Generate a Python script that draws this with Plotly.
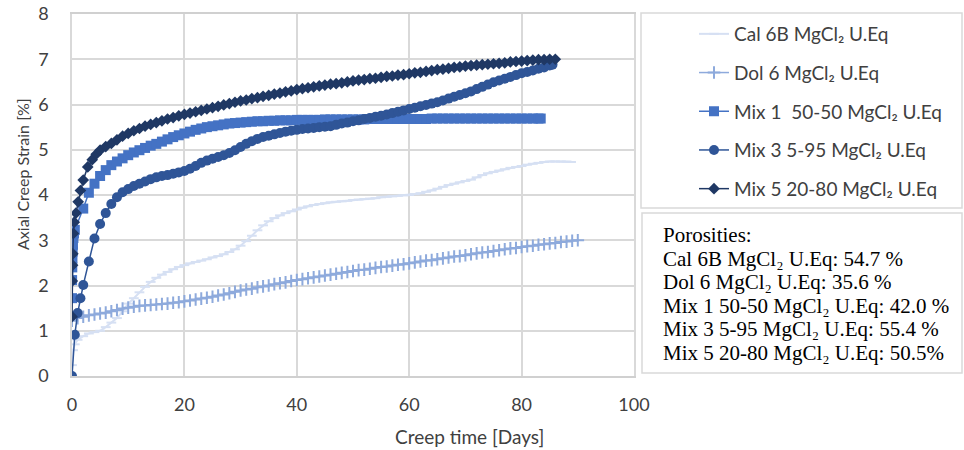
import plotly.graph_objects as go

# ---- creep curves: time [days] and axial strain [%] ----
cal_t = [0, 0.2, 0.5, 1, 2, 3, 4, 5, 6, 7, 8, 9, 10, 11, 12, 13, 14, 15, 16, 17, 18, 19, 20,
         21, 22, 23, 24, 25, 26, 27, 28, 29, 30, 31, 32, 33, 34, 35, 36, 37, 38, 39, 40,
         41, 42, 43, 44, 45, 46, 47, 48, 49, 50, 51, 52, 53, 54, 55, 56, 57, 58, 59, 60,
         61, 62, 63, 64, 65, 66, 67, 68, 69, 70, 71, 72, 73, 74, 75, 76, 77, 78, 79, 80,
         81, 82, 83, 84, 85, 86, 87, 88, 88.8]
cal_y = [0.24, 0.57, 0.70, 0.80, 0.88, 0.94, 0.97, 1.00, 1.08, 1.18, 1.28, 1.43, 1.60, 1.72, 1.85, 1.97, 2.08, 2.17, 2.24, 2.30, 2.36, 2.41, 2.45,
         2.49, 2.52, 2.55, 2.58, 2.62, 2.65, 2.69, 2.74, 2.80, 2.88, 2.98, 3.10, 3.22, 3.33, 3.42, 3.49, 3.55, 3.60, 3.64, 3.68,
         3.72, 3.75, 3.78, 3.80, 3.82, 3.84, 3.85, 3.86, 3.87, 3.89, 3.90, 3.91, 3.92, 3.93, 3.95, 3.96, 3.97, 3.98, 3.99, 4.00,
         4.02, 4.04, 4.07, 4.10, 4.14, 4.18, 4.22, 4.25, 4.28, 4.31, 4.34, 4.39, 4.44, 4.48, 4.51, 4.54, 4.57, 4.60, 4.62, 4.64,
         4.67, 4.69, 4.71, 4.73, 4.74, 4.74, 4.74, 4.74, 4.73]

dol_t = [0, 1, 2, 3, 4, 5, 6, 7, 8, 9, 10, 11, 12, 13, 14, 15, 16, 17, 18, 19, 20,
         21, 22, 23, 24, 25, 26, 27, 28, 29, 30, 31, 32, 33, 34, 35, 36, 37, 38, 39, 40,
         41, 42, 43, 44, 45, 46, 47, 48, 49, 50, 51, 52, 53, 54, 55, 56, 57, 58, 59, 60,
         61, 62, 63, 64, 65, 66, 67, 68, 69, 70, 71, 72, 73, 74, 75, 76, 77, 78, 79, 80,
         81, 82, 83, 84, 85, 86, 87, 88, 89, 90]
dol_y = [1.22, 1.28, 1.31, 1.34, 1.36, 1.38, 1.40, 1.43, 1.46, 1.49, 1.51, 1.53, 1.55, 1.56, 1.57, 1.58, 1.59, 1.60, 1.62, 1.63, 1.65,
         1.67, 1.69, 1.71, 1.73, 1.75, 1.78, 1.80, 1.83, 1.86, 1.89, 1.91, 1.93, 1.96, 1.98, 2.00, 2.03, 2.05, 2.07, 2.10, 2.12,
         2.14, 2.16, 2.18, 2.20, 2.22, 2.24, 2.26, 2.28, 2.30, 2.32, 2.34, 2.35, 2.37, 2.39, 2.41, 2.42, 2.44, 2.46, 2.47, 2.49,
         2.51, 2.53, 2.55, 2.56, 2.58, 2.60, 2.62, 2.64, 2.65, 2.67, 2.69, 2.71, 2.73, 2.74, 2.76, 2.78, 2.80, 2.82, 2.83, 2.85,
         2.87, 2.88, 2.90, 2.91, 2.93, 2.94, 2.96, 2.97, 2.99, 3.00]

mix1_t = [0, 0.02, 0.05, 0.08, 0.12, 0.17, 0.25, 0.35, 0.5, 2, 3, 4, 5, 6, 7, 8, 9, 10, 11, 12, 13, 14, 15, 16, 17, 18, 19, 20,
          21, 22, 23, 24, 25, 26, 27, 28, 29, 30, 31, 32, 33, 34, 35, 36, 37, 38, 39, 40,
          41, 42, 43, 44, 45, 46, 47, 48, 49, 50, 51, 52, 53, 54, 55, 56, 57, 58, 59, 60,
          61, 62, 63, 64, 65, 66, 67, 68, 69, 70, 71, 72, 73, 74, 75, 76, 77, 78, 79, 80,
          81, 82, 83, 83.4]
mix1_y = [1.72, 2.12, 2.40, 2.60, 2.75, 2.90, 3.05, 3.15, 3.23, 3.70, 4.05, 4.25, 4.42, 4.55, 4.66, 4.74, 4.81, 4.88, 4.94, 4.99, 5.04, 5.09, 5.13, 5.18, 5.23, 5.28, 5.32, 5.36,
          5.40, 5.44, 5.47, 5.50, 5.52, 5.54, 5.56, 5.58, 5.59, 5.60, 5.61, 5.62, 5.63, 5.63, 5.64, 5.64, 5.65, 5.65, 5.65, 5.66,
          5.66, 5.66, 5.66, 5.66, 5.67, 5.67, 5.67, 5.67, 5.67, 5.67, 5.67, 5.67, 5.68, 5.68, 5.68, 5.68, 5.68, 5.68, 5.68, 5.68,
          5.68, 5.68, 5.68, 5.69, 5.69, 5.69, 5.69, 5.69, 5.69, 5.69, 5.69, 5.69, 5.69, 5.69, 5.69, 5.69, 5.69, 5.69, 5.69, 5.69,
          5.69, 5.69, 5.69, 5.69]

mix3_t = [0, 0.5, 1, 1.5, 2, 3, 4, 5, 6, 7, 8, 9, 10, 11, 12, 13, 14, 15, 16, 17, 18, 19, 20,
          21, 22, 23, 24, 25, 26, 27, 28, 29, 30, 31, 32, 33, 34, 35, 36, 37, 38, 39, 40,
          41, 42, 43, 44, 45, 46, 47, 48, 49, 50, 51, 52, 53, 54, 55, 56, 57, 58, 59, 60,
          61, 62, 63, 64, 65, 66, 67, 68, 69, 70, 71, 72, 73, 74, 75, 76, 77, 78, 79, 80,
          81, 82, 83, 84, 85, 85.5]
mix3_y = [0.00, 0.91, 1.39, 1.72, 2.01, 2.53, 3.04, 3.36, 3.60, 3.80, 3.95, 4.06, 4.13, 4.20, 4.25, 4.30, 4.35, 4.39, 4.42, 4.44, 4.47, 4.50, 4.53,
          4.58, 4.64, 4.71, 4.76, 4.80, 4.84, 4.88, 4.93, 4.99, 5.06, 5.13, 5.19, 5.24, 5.28, 5.31, 5.34, 5.37, 5.40, 5.42, 5.44,
          5.46, 5.47, 5.48, 5.50, 5.51, 5.52, 5.55, 5.58, 5.60, 5.63, 5.65, 5.68, 5.70, 5.73, 5.75, 5.78, 5.81, 5.84, 5.87, 5.90,
          5.93, 5.96, 5.99, 6.02, 6.05, 6.09, 6.13, 6.17, 6.21, 6.25, 6.29, 6.34, 6.39, 6.44, 6.49, 6.53, 6.57, 6.61, 6.65, 6.69,
          6.72, 6.75, 6.79, 6.82, 6.86, 6.88]

mix5_t = [0, 0.05, 0.1, 0.15, 0.25, 0.4, 0.7, 1.1, 1.5, 2.0, 2.8, 3.6, 4.3, 5, 6, 7, 8, 9, 10, 11, 12, 13, 14, 15, 16, 17, 18, 19, 20,
          21, 22, 23, 24, 25, 26, 27, 28, 29, 30, 31, 32, 33, 34, 35, 36, 37, 38, 39, 40,
          41, 42, 43, 44, 45, 46, 47, 48, 49, 50, 51, 52, 53, 54, 55, 56, 57, 58, 59, 60,
          61, 62, 63, 64, 65, 66, 67, 68, 69, 70, 71, 72, 73, 74, 75, 76, 77, 78, 79, 80,
          81, 82, 83, 84, 85, 86]
mix5_y = [1.31, 2.10, 2.45, 2.70, 3.15, 3.40, 3.60, 3.85, 4.10, 4.33, 4.62, 4.78, 4.90, 4.99, 5.07, 5.14, 5.22, 5.30, 5.36, 5.42, 5.47, 5.52, 5.56, 5.60, 5.64, 5.68, 5.71, 5.75, 5.78,
          5.81, 5.84, 5.87, 5.90, 5.93, 5.96, 5.99, 6.02, 6.05, 6.08, 6.10, 6.13, 6.15, 6.18, 6.20, 6.23, 6.25, 6.28, 6.30, 6.33,
          6.35, 6.37, 6.39, 6.41, 6.43, 6.45, 6.46, 6.48, 6.50, 6.52, 6.54, 6.55, 6.57, 6.58, 6.60, 6.62, 6.63, 6.65, 6.66, 6.68,
          6.70, 6.71, 6.73, 6.75, 6.77, 6.78, 6.80, 6.82, 6.83, 6.85, 6.86, 6.87, 6.88, 6.89, 6.90, 6.91, 6.92, 6.94, 6.95, 6.96,
          6.97, 6.98, 6.99, 6.99, 7.00, 7.00]

series_names = ["Cal 6B MgCl₂ U.Eq", "Dol 6 MgCl₂ U.Eq", "Mix 1  50-50 MgCl₂ U.Eq",
                "Mix 3 5-95 MgCl₂ U.Eq", "Mix 5 20-80 MgCl₂ U.Eq"]

# porosity note
porosity_names = ["Cal 6B MgCl₂ U.Eq", "Dol 6 MgCl₂ U.Eq", "Mix 1 50-50 MgCl₂ U.Eq",
                  "Mix 3 5-95 MgCl₂ U.Eq", "Mix 5 20-80 MgCl₂ U.Eq"]
porosity_values = ["54.7 %", "35.6 %", "42.0 %", "55.4 %", "50.5%"]

x_ticks = [0, 20, 40, 60, 80, 100]
y_ticks = [0, 1, 2, 3, 4, 5, 6, 7, 8]

# ---- styling ----
W, H = 964, 450
L, R, T, B = 72, 634, 14, 376  # plot area in pixels
FONT = "Lato"
TXT = "#404040"

styles = [
    dict(color="#d6e0f3", symbol="line-ew", size=7, lw=2.0, mlw=2.0),
    dict(color="#8eaadc", symbol="cross-thin", size=9, lw=1.5, mlw=2.0),
    dict(color="#4472c4", symbol="square", size=10, lw=1.5, mlw=0),
    dict(color="#2f5597", symbol="circle", size=10, lw=1.5, mlw=0),
    dict(color="#1f3864", symbol="diamond", size=9, lw=1.5, mlw=0),
]
data = [(cal_t, cal_y), (dol_t, dol_y), (mix1_t, mix1_y), (mix3_t, mix3_y), (mix5_t, mix5_y)]

fig = go.Figure()
for i, ((t, y), name, st) in enumerate(zip(data, series_names, styles)):
    fig.add_trace(go.Scatter(
        x=t, y=y, name=name, mode="lines+markers", legendgroup=f"g{i}",
        line=dict(color=st["color"], width=st["lw"]),
        marker=dict(symbol=st["symbol"], size=st["size"], color=st["color"],
                    line=dict(color=st["color"], width=st["mlw"])),
    ))

def px_x(p):
    return (p - L) / (R - L)

def px_y(p):
    return (B - p) / (B - T)

shapes = [
    # legend frame
    dict(type="rect", xref="paper", yref="paper", x0=px_x(641), x1=px_x(962),
         y0=px_y(208), y1=px_y(13), line=dict(color="#d9d9d9", width=1.5)),
    # porosity box frame
    dict(type="rect", xref="paper", yref="paper", x0=px_x(642), x1=px_x(962),
         y0=px_y(373), y1=px_y(213), line=dict(color="#d9d9d9", width=1.5)),
]

annotations = [
    dict(text="Creep time [Days]", xref="paper", yref="paper", x=px_x(469), y=px_y(436),
         xanchor="center", yanchor="middle", showarrow=False, font=dict(family=FONT, size=19, color=TXT)),
    dict(text="Axial Creep Strain [%]", xref="paper", yref="paper", x=px_x(22), y=px_y(174),
         xanchor="center", yanchor="middle", textangle=-90, showarrow=False,
         font=dict(family=FONT, size=16, color=TXT)),
]
por_lines = ["Porosities:"] + [f"{n}: {v}" for n, v in zip(porosity_names, porosity_values)]
for k, line in enumerate(por_lines):
    annotations.append(dict(
        text=line, xref="paper", yref="paper", x=px_x(661), y=px_y(235 + k * 23.6),
        xanchor="left", yanchor="middle", showarrow=False,
        font=dict(family="Liberation Serif", size=21, color="#000000")))

fig.update_layout(
    width=W, height=H, autosize=False,
    margin=dict(l=L, r=W - R, t=T, b=H - B, pad=0, autoexpand=False),
    paper_bgcolor="white", plot_bgcolor="white",
    showlegend=True,
    legend=dict(xref="container", yref="container", x=694 / W, y=1 - 15 / H,
                xanchor="left", yanchor="top", traceorder="grouped", tracegroupgap=11,
                font=dict(family=FONT, size=19, color=TXT), bgcolor="rgba(0,0,0,0)",
                borderwidth=0, itemwidth=30),
    xaxis=dict(range=[0, 100], tickvals=x_ticks, ticktext=[str(v) for v in x_ticks],
               showgrid=True, gridcolor="#d9d9d9", gridwidth=1.5, zeroline=False,
               showline=True, linecolor="#d0d0d0", linewidth=1.5, mirror=True,
               ticks="", ticklabelstandoff=12, tickfont=dict(family=FONT, size=18, color=TXT)),
    yaxis=dict(range=[0, 8], tickvals=y_ticks, ticktext=[str(v) for v in y_ticks],
               showgrid=True, gridcolor="#d9d9d9", gridwidth=1.5, zeroline=False,
               showline=True, linecolor="#d9d9d9", linewidth=1.5, mirror=True,
               ticks="", ticklabelstandoff=18, tickfont=dict(family=FONT, size=18, color=TXT)),
    shapes=shapes, annotations=annotations,
)

fig.write_html("out.html")
